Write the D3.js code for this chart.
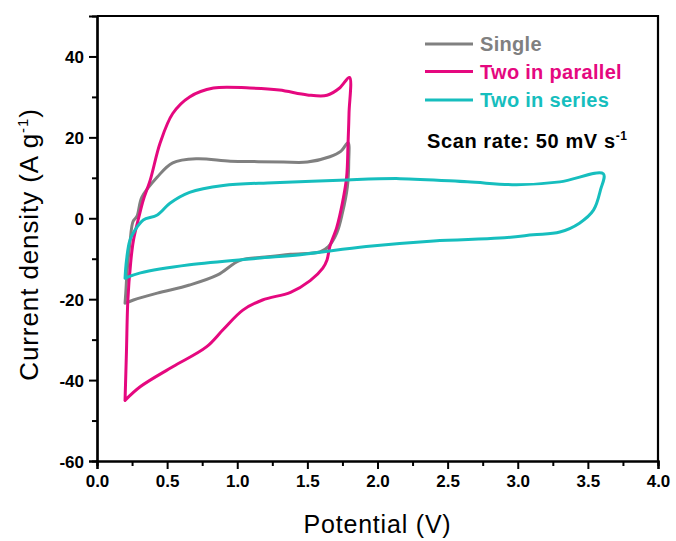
<!DOCTYPE html>
<html>
<head>
<meta charset="utf-8">
<script src="https://cdn.jsdelivr.net/npm/d3@7/dist/d3.min.js"></script>
<style>
  html, body { margin: 0; padding: 0; background: #fff; }
  svg { display: block; font-family: Arial, "Liberation Sans", sans-serif; }
</style>
</head>
<body>
<svg id="chart" width="676" height="541"></svg>
<script>
// Cyclic voltammetry loops: [potential (V), current density (A g^-1)]
const singleCurve = [
  [0.20, -21.0], [0.205, -18.5], [0.215, -13.0], [0.235, -6.0], [0.257, -0.8], [0.285, 0.5],
  [0.32, 5.2], [0.43, 10.2], [0.54, 13.7], [0.71, 14.7], [0.95, 14.1], [1.15, 14.0],
  [1.33, 13.9], [1.50, 13.9], [1.66, 15.2], [1.74, 16.6], [1.79, 18.7],
  [1.795, 14.0], [1.785, 7.7], [1.75, 1.3], [1.71, -3.6], [1.65, -7.0], [1.59, -8.3],
  [1.38, -8.9], [1.20, -9.6], [1.02, -10.4], [0.86, -14.0], [0.66, -16.5], [0.43, -18.5],
  [0.26, -20.2], [0.20, -21.0]
];
const parallelCurve = [
  [0.20, -45.0], [0.21, -33.0], [0.22, -20.2], [0.24, -11.0], [0.26, -5.4], [0.30, 0.5],
  [0.33, 4.5], [0.38, 9.5], [0.45, 18.6], [0.54, 25.9], [0.66, 30.0], [0.83, 32.2],
  [1.09, 32.2], [1.30, 31.7], [1.50, 30.5], [1.64, 30.4], [1.73, 32.2], [1.80, 34.8],
  [1.797, 26.0], [1.79, 18.6], [1.78, 10.2], [1.75, 3.8], [1.71, -2.2], [1.66, -7.0],
  [1.64, -10.3], [1.61, -12.3], [1.52, -15.4], [1.38, -18.3], [1.18, -20.2], [1.04, -22.7],
  [0.90, -27.5], [0.78, -31.8], [0.54, -36.7], [0.31, -41.6], [0.20, -45.0]
];
const seriesCurve = [
  [0.20, -14.8], [0.21, -10.5], [0.235, -5.4], [0.285, -2.2], [0.33, -0.4], [0.43, 0.8],
  [0.52, 3.7], [0.66, 6.4], [0.90, 8.1], [1.26, 8.8], [1.73, 9.4], [2.16, 9.8],
  [2.64, 9.0], [2.99, 8.3], [3.30, 9.0], [3.61, 11.0],
  [3.59, 7.0], [3.54, 2.0], [3.44, -1.2], [3.30, -3.4], [3.11, -4.1], [2.87, -4.9],
  [2.40, -5.6], [1.92, -7.0], [1.45, -9.0], [1.14, -9.9], [0.66, -11.5], [0.31, -13.5],
  [0.20, -14.8]
];

const seriesNames = ["Single", "Two in parallel", "Two in series"];
const seriesColors = ["#808080", "#e5087f", "#16bebe"];
const seriesData = [singleCurve, parallelCurve, seriesCurve];

const xTicks = [0.0, 0.5, 1.0, 1.5, 2.0, 2.5, 3.0, 3.5, 4.0];
const xMinorTicks = [0.25, 0.75, 1.25, 1.75, 2.25, 2.75, 3.25, 3.75];
const yTicks = [-60, -40, -20, 0, 20, 40];
const yMinorTicks = [-50, -30, -10, 10, 30];

const margin = { left: 97, top: 16, right: 18, bottom: 80 };
const W = 676, H = 541;

const svg = d3.select("#chart");

const x = d3.scaleLinear().domain([0, 4]).range([margin.left, W - margin.right]);
const y = d3.scaleLinear().domain([-60, 50]).range([H - margin.bottom, margin.top]);

// Frame: top and right edges without ticks
svg.append("path")
  .attr("d", `M${x(0)},${y(50)}H${x(4)}V${y(-60)}`)
  .attr("fill", "none").attr("stroke", "#000").attr("stroke-width", 2.2);

// Minor ticks
const xMinor = svg.append("g").attr("transform", `translate(0,${y(-60)})`)
  .call(d3.axisBottom(x).tickValues(xMinorTicks).tickSize(5).tickFormat(""));
const yMinor = svg.append("g").attr("transform", `translate(${x(0)},0)`)
  .call(d3.axisLeft(y).tickValues(yMinorTicks).tickSize(5).tickFormat(""));

// Major axes (plain hyphen for negative numbers)
const xAxis = svg.append("g").attr("transform", `translate(0,${y(-60)})`)
  .call(d3.axisBottom(x).tickValues(xTicks).tickSize(8).tickPadding(6).tickFormat(d => d.toFixed(1)));
const yAxis = svg.append("g").attr("transform", `translate(${x(0)},0)`)
  .call(d3.axisLeft(y).tickValues(yTicks).tickSize(8).tickPadding(5).tickFormat(d => String(d)));

[xMinor, yMinor, xAxis, yAxis].forEach(g => {
  g.select(".domain").attr("stroke", "#000").attr("stroke-width", 2.2);
  g.selectAll(".tick line").attr("stroke", "#000").attr("stroke-width", 2);
  g.selectAll("text").attr("fill", "#000")
    .style("font-size", "17px").style("font-weight", "bold")
    .style("font-family", "Arial, 'Liberation Sans', sans-serif");
});
yAxis.selectAll(".tick text").attr("dy", "0.36em");

// Curves
const line = d3.line()
  .x(d => x(d[0]))
  .y(d => y(d[1]))
  .curve(d3.curveCatmullRom.alpha(0.5));

svg.append("g").selectAll("path")
  .data(seriesData)
  .join("path")
  .attr("d", line)
  .attr("fill", "none")
  .attr("stroke", (d, i) => seriesColors[i])
  .attr("stroke-width", 3)
  .attr("stroke-linejoin", "round")
  .attr("stroke-linecap", "round");

// Legend
const legend = svg.append("g");
const legendRows = [44, 71.5, 100];
seriesNames.forEach((name, i) => {
  legend.append("line")
    .attr("x1", 425).attr("x2", 473)
    .attr("y1", legendRows[i]).attr("y2", legendRows[i])
    .attr("stroke", seriesColors[i]).attr("stroke-width", 3);
  legend.append("text")
    .attr("x", 480).attr("y", legendRows[i] + 7)
    .attr("fill", seriesColors[i])
    .style("font-size", "20px").style("font-weight", "bold")
    .style("letter-spacing", "0.3px")
    .text(name);
});

// Scan rate annotation
const scan = svg.append("text")
  .attr("x", 427).attr("y", 148)
  .attr("fill", "#000")
  .style("font-size", "20px").style("font-weight", "bold")
  .style("letter-spacing", "0.6px");
scan.append("tspan").text("Scan rate: 50 mV s");
scan.append("tspan").attr("dy", -8).style("font-size", "12px").text("-1");

// Axis titles
svg.append("text")
  .attr("x", (x(0) + x(4)) / 2).attr("y", 533)
  .attr("text-anchor", "middle")
  .attr("fill", "#000")
  .style("font-size", "25px").style("letter-spacing", "0.8px")
  .text("Potential (V)");

const yTitle = svg.append("text")
  .attr("transform", `translate(38,${(y(50) + y(-60)) / 2 + 6}) rotate(-90)`)
  .attr("text-anchor", "middle")
  .attr("fill", "#000")
  .style("font-size", "26px").style("letter-spacing", "0.9px");
yTitle.append("tspan").text("Current density (A g");
yTitle.append("tspan").attr("dy", -10).style("font-size", "15px").text("-1");
yTitle.append("tspan").attr("dy", 10).text(")");
</script>
</body>
</html>
